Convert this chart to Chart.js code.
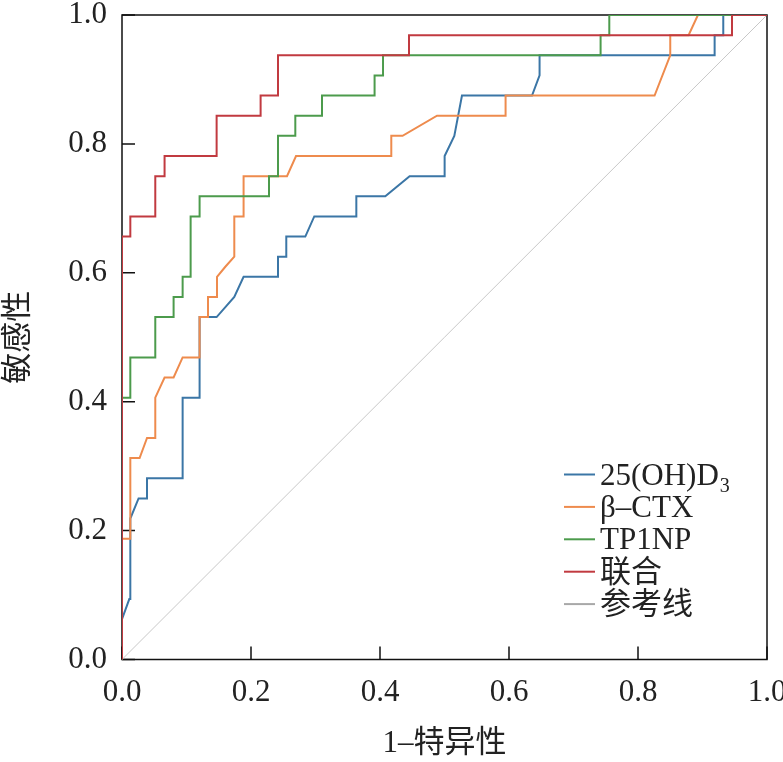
<!DOCTYPE html>
<html>
<head>
<meta charset="utf-8">
<script src="https://cdn.jsdelivr.net/npm/chart.js@4.4.1/dist/chart.umd.min.js"></script>
<style>
  html, body { margin: 0; padding: 0; background: #fff; }
  #wrap { width: 783px; height: 762px; position: relative; }
</style>
</head>
<body>
<div id="wrap"><canvas id="roc"></canvas></div>
<script>
// ROC curves: false positive rate (1-特异性) and sensitivity (敏感性)
const ohX = [0, 0, 0.0113, 0.0129, 0.0129, 0.0257, 0.0388, 0.0388, 0.094, 0.094, 0.1203, 0.1203, 0.1467, 0.1741, 0.1885, 0.2419, 0.2419, 0.2547, 0.2547, 0.2842, 0.2981, 0.3633, 0.3633, 0.4082, 0.4459, 0.5002, 0.5002, 0.5152, 0.5271, 0.6357, 0.6474, 0.6474, 0.9188, 0.9188, 0.9322, 0.9322, 1];
const ohY = [0, 0.0625, 0.09375, 0.09375, 0.21875, 0.25, 0.25, 0.28125, 0.28125, 0.40625, 0.40625, 0.53125, 0.53125, 0.5625, 0.59375, 0.59375, 0.625, 0.625, 0.65625, 0.65625, 0.6875, 0.6875, 0.71875, 0.71875, 0.75, 0.75, 0.78125, 0.8125, 0.875, 0.875, 0.90625, 0.9375, 0.9375, 0.96875, 0.96875, 1, 1];

const ctxX = [0, 0, 0.0129, 0.0129, 0.0273, 0.0388, 0.0516, 0.0516, 0.066, 0.08, 0.094, 0.1203, 0.1203, 0.1333, 0.1333, 0.1473, 0.1473, 0.1602, 0.1741, 0.1741, 0.1885, 0.1885, 0.2558, 0.2698, 0.4175, 0.4175, 0.435, 0.4884, 0.5947, 0.5947, 0.8257, 0.85, 0.85, 0.8784, 0.8929, 1];
const ctxY = [0, 0.1875, 0.1875, 0.3125, 0.3125, 0.34375, 0.34375, 0.40625, 0.4375, 0.4375, 0.46875, 0.46875, 0.53125, 0.53125, 0.5625, 0.5625, 0.59375, 0.6094, 0.625, 0.6875, 0.6875, 0.75, 0.75, 0.78125, 0.78125, 0.8125, 0.8125, 0.84375, 0.84375, 0.875, 0.875, 0.9375, 0.96875, 0.96875, 1, 1];

const tpX = [0, 0, 0.0129, 0.0129, 0.0516, 0.0516, 0.08, 0.08, 0.094, 0.094, 0.1064, 0.1064, 0.1203, 0.1203, 0.2279, 0.2279, 0.2419, 0.2419, 0.2687, 0.2687, 0.3101, 0.3101, 0.3916, 0.3916, 0.4047, 0.4047, 0.742, 0.742, 0.7555, 0.7555, 1];
const tpY = [0, 0.40625, 0.40625, 0.46875, 0.46875, 0.53125, 0.53125, 0.5625, 0.5625, 0.59375, 0.59375, 0.6875, 0.6875, 0.71875, 0.71875, 0.75, 0.75, 0.8125, 0.8125, 0.84375, 0.84375, 0.875, 0.875, 0.90625, 0.90625, 0.9375, 0.9375, 0.96875, 0.96875, 1, 1];

const comboX = [0, 0, 0.0129, 0.0129, 0.0516, 0.0516, 0.066, 0.066, 0.1467, 0.1467, 0.2149, 0.2149, 0.2419, 0.2419, 0.445, 0.445, 0.9457, 0.9457, 1];
const comboY = [0, 0.65625, 0.65625, 0.6875, 0.6875, 0.75, 0.75, 0.78125, 0.78125, 0.84375, 0.84375, 0.875, 0.875, 0.9375, 0.9375, 0.96875, 0.96875, 1, 1];

const refX = [0, 1];
const refY = [0, 1];

const seriesLabels = ['25(OH)D₃', 'β–CTX', 'TP1NP', '联合', '参考线'];
const tickValues = [0, 0.2, 0.4, 0.6, 0.8, 1.0];

const FONT = "'Liberation Serif', 'Noto Sans CJK SC', serif";

function toPoints(xs, ys) {
    return xs.map((v, i) => ({x: v, y: ys[i]}));
}

// box round the plot and inward ticks
const framePlugin = {
    id: 'frame',
    beforeDatasetsDraw(chart) {
        const {ctx, chartArea: a, scales} = chart;
        ctx.save();
        ctx.strokeStyle = '#111';
        ctx.lineWidth = 1.5;
        ctx.strokeRect(a.left, a.top, a.width, a.height);
        ctx.beginPath();
        tickValues.forEach(v => {
            const px = scales.x.getPixelForValue(v);
            ctx.moveTo(px, a.bottom);
            ctx.lineTo(px, a.bottom - 13);
            const py = scales.y.getPixelForValue(v);
            ctx.moveTo(a.left, py);
            ctx.lineTo(a.left + 13, py);
        });
        ctx.stroke();
        ctx.restore();
    }
};

// legend inside the lower right corner, with subscript digits
const subDigits = '₀₁₂₃₄₅₆₇₈₉';
const legendPlugin = {
    id: 'innerLegend',
    afterDatasetsDraw(chart) {
        const {ctx, chartArea: a} = chart;
        const x0 = a.right - 203;
        const y0 = a.bottom - 185;
        const rowH = 32.4;
        ctx.save();
        chart.data.datasets.forEach((ds, i) => {
            const y = y0 + i * rowH;
            ctx.strokeStyle = ds.legendColor || ds.borderColor;
            ctx.lineWidth = 2;
            ctx.beginPath();
            ctx.moveTo(x0, y);
            ctx.lineTo(x0 + 31, y);
            ctx.stroke();

            let tx = x0 + 36;
            ctx.fillStyle = '#222';
            ctx.textBaseline = 'alphabetic';
            for (const ch of ds.label) {
                const k = subDigits.indexOf(ch);
                if (k >= 0) {
                    ctx.font = '20px ' + FONT;
                    ctx.fillText(String(k), tx + 1, y + 17);
                    tx += ctx.measureText(String(k)).width + 1;
                } else {
                    ctx.font = '31px ' + FONT;
                    ctx.fillText(ch, tx, y + 10);
                    tx += ctx.measureText(ch).width;
                }
            }
        });
        ctx.restore();
    }
};

const tickFont = {family: FONT, size: 31};

new Chart(document.getElementById('roc'), {
    type: 'line',
    data: {
        datasets: [
            {label: seriesLabels[0], data: toPoints(ohX, ohY), borderColor: '#3b76a6', order: 4},
            {label: seriesLabels[1], data: toPoints(ctxX, ctxY), borderColor: '#ee8b4d', order: 3},
            {label: seriesLabels[2], data: toPoints(tpX, tpY), borderColor: '#4c9b4c', order: 2},
            {label: seriesLabels[3], data: toPoints(comboX, comboY), borderColor: '#c13a40', order: 1},
            {label: seriesLabels[4], data: toPoints(refX, refY), borderColor: '#c8c8c8', legendColor: '#a8a8a8', borderWidth: 1, order: 5}
        ]
    },
    options: {
        responsive: true,
        maintainAspectRatio: false,
        animation: false,
        layout: {
            autoPadding: false,
            padding: {top: 15, right: 16, left: 0, bottom: 0}
        },
        elements: {
            line: {borderWidth: 2, tension: 0, fill: false},
            point: {radius: 0}
        },
        plugins: {
            legend: {display: false},
            tooltip: {enabled: false}
        },
        scales: {
            x: {
                type: 'linear',
                min: 0,
                max: 1,
                grid: {display: false},
                border: {display: false},
                ticks: {
                    stepSize: 0.2,
                    font: tickFont,
                    color: '#222',
                    padding: 7,
                    maxRotation: 0,
                    autoSkip: false,
                    callback: (v) => v.toFixed(1)
                },
                title: {
                    display: true,
                    text: '1–特异性',
                    font: {family: FONT, size: 31},
                    color: '#222',
                    padding: 0
                },
                afterFit(scale) {
                    scale.height = 102.5;
                    scale.paddingLeft = 0;
                    scale.paddingRight = 0;
                }
            },
            y: {
                type: 'linear',
                min: 0,
                max: 1,
                grid: {display: false},
                border: {display: false},
                ticks: {
                    stepSize: 0.2,
                    font: tickFont,
                    color: '#222',
                    padding: 7,
                    autoSkip: false,
                    callback: (v) => v.toFixed(1)
                },
                title: {
                    display: true,
                    text: '敏感性',
                    font: {family: FONT, size: 31},
                    color: '#222',
                    padding: 0
                },
                afterFit(scale) {
                    scale.width = 122;
                    scale.paddingTop = 0;
                    scale.paddingBottom = 0;
                }
            }
        }
    },
    plugins: [framePlugin, legendPlugin]
});
</script>
</body>
</html>
